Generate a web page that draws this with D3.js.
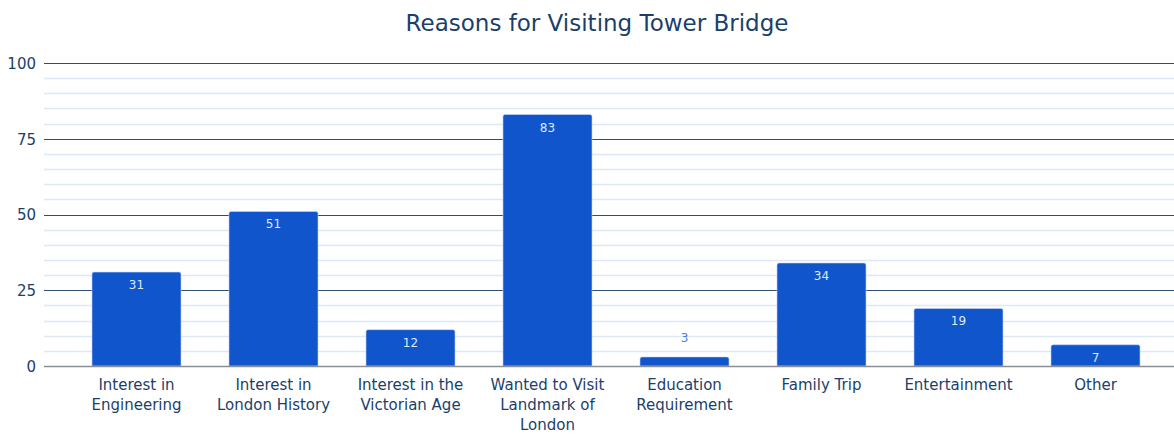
<!DOCTYPE html>
<html>
<head>
<meta charset="utf-8">
<script src="https://cdn.jsdelivr.net/npm/d3@7"></script>
<style>
  html, body { margin: 0; padding: 0; background: #fff; }
  svg { display: block; font-family: "DejaVu Sans", Verdana, sans-serif; }
</style>
</head>
<body>
<svg id="chart" width="1174" height="434"></svg>
<script>
// Survey responses: reasons for visiting Tower Bridge
const categories = [
  ["Interest in", "Engineering"],
  ["Interest in", "London History"],
  ["Interest in the", "Victorian Age"],
  ["Wanted to Visit", "Landmark of", "London"],
  ["Education", "Requirement"],
  ["Family Trip"],
  ["Entertainment"],
  ["Other"]
];
const values = [31, 51, 12, 83, 3, 34, 19, 7];
const yTicks = [0, 25, 50, 75, 100];
const yMinorTicks = d3.range(0, 101, 5);
const title = "Reasons for Visiting Tower Bridge";

const svg = d3.select("#chart");
const gridLeft = 44, gridRight = 1174;
const plotTop = 63, plotBottom = 366;

const x = d3.scaleBand()
  .domain(d3.range(categories.length))
  .range([68, 1164])
  .paddingInner(0.35)
  .paddingOuter(0.175);

const y = d3.scaleLinear().domain([0, 100]).range([plotBottom, plotTop]);

// Title
svg.append("text")
  .attr("x", 597).attr("y", 31)
  .attr("text-anchor", "middle")
  .attr("font-size", 23)
  .attr("fill", "#1b3f6a")
  .text(title);

// Minor gridlines
svg.append("g").selectAll("line")
  .data(yMinorTicks.filter(t => !yTicks.includes(t)))
  .join("line")
  .attr("x1", gridLeft).attr("x2", gridRight)
  .attr("y1", d => Math.round(y(d)) + 0.5).attr("y2", d => Math.round(y(d)) + 0.5)
  .attr("stroke", "#dce8f6").attr("stroke-width", 1.5);

// Major gridlines
svg.append("g").selectAll("line")
  .data(yTicks.filter(t => t !== 0))
  .join("line")
  .attr("x1", gridLeft).attr("x2", gridRight)
  .attr("y1", d => Math.round(y(d)) + 0.5).attr("y2", d => Math.round(y(d)) + 0.5)
  .attr("stroke", "#2d4e76").attr("stroke-width", 1);

// Y axis labels
const yAxis = d3.axisLeft(y).tickValues(yTicks).tickSize(0).tickPadding(0);
const yG = svg.append("g").attr("transform", `translate(${gridLeft - 8},0)`).call(yAxis);
yG.select(".domain").remove();
yG.selectAll("text")
  .attr("font-size", 15)
  .attr("font-family", "DejaVu Sans, Verdana, sans-serif")
  .attr("fill", "#1b3f6a")
  .attr("dy", "0.35em");

// Bars with slightly rounded top corners
function barPath(x0, w, yTop, yBase, r) {
  r = Math.min(r, (yBase - yTop));
  return `M${x0},${yBase}V${yTop + r}Q${x0},${yTop} ${x0 + r},${yTop}` +
         `H${x0 + w - r}Q${x0 + w},${yTop} ${x0 + w},${yTop + r}V${yBase}Z`;
}

svg.append("g").selectAll("path")
  .data(values)
  .join("path")
  .attr("d", (d, i) => barPath(x(i), x.bandwidth(), y(d), y(0), 2))
  .attr("fill", "#1155cc")
  .attr("stroke", "#c9d9f3")
  .attr("stroke-width", 0.6);

// Zero baseline
svg.append("line")
  .attr("x1", gridLeft).attr("x2", gridRight)
  .attr("y1", y(0) + 0.5).attr("y2", y(0) + 0.5)
  .attr("stroke", "#8a8f96").attr("stroke-width", 1.5);

// Value labels: inside the bar when there is room, above it otherwise
const fitsInside = d => (y(0) - y(d)) > 20;
svg.append("g").selectAll("text")
  .data(values)
  .join("text")
  .attr("x", (d, i) => x(i) + x.bandwidth() / 2)
  .attr("y", d => fitsInside(d) ? y(d) + 17 : y(d) - 15)
  .attr("text-anchor", "middle")
  .attr("font-size", 12)
  .attr("fill", d => fitsInside(d) ? "#dfe9fb" : "#4a7ee0")
  .text(d => d);

// Category labels
const catG = svg.append("g").selectAll("text")
  .data(categories)
  .join("text")
  .attr("x", (d, i) => x(i) + x.bandwidth() / 2)
  .attr("y", 390)
  .attr("text-anchor", "middle")
  .attr("font-size", 15)
  .attr("fill", "#1b3f6a");
catG.selectAll("tspan")
  .data(d => d)
  .join("tspan")
  .attr("x", function () { return d3.select(this.parentNode).attr("x"); })
  .attr("dy", (d, i) => i === 0 ? 0 : 20)
  .text(d => d);
</script>
</body>
</html>
